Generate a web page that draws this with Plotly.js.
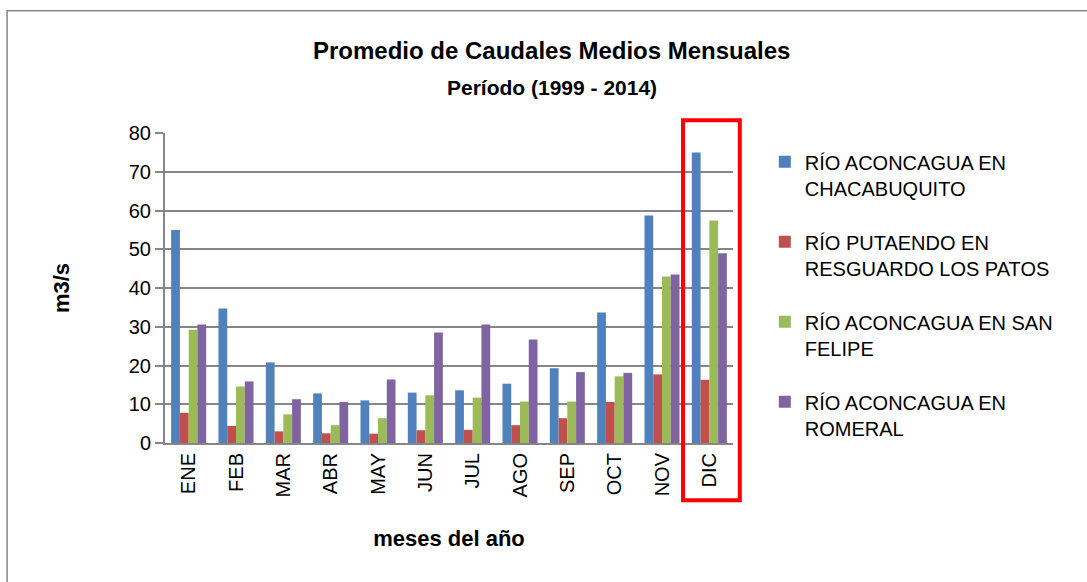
<!DOCTYPE html>
<html>
<head>
<meta charset="utf-8">
<script src="https://cdn.plot.ly/plotly-3.0.1.min.js"></script>
<style>html,body{margin:0;padding:0;background:#fff;}#chart{width:1087px;height:582px;}</style>
</head>
<body>
<div id="chart"></div>
<script>
const months = ["ENE","FEB","MAR","ABR","MAY","JUN","JUL","AGO","SEP","OCT","NOV","DIC"];
const seriesNames = [
  "RÍO ACONCAGUA EN<br>CHACABUQUITO",
  "RÍO PUTAENDO EN<br>RESGUARDO LOS PATOS",
  "RÍO ACONCAGUA EN SAN<br>FELIPE",
  "RÍO ACONCAGUA EN<br>ROMERAL"
];
const chacabuquito = [55.0, 34.7, 20.8, 12.8, 11.0, 13.0, 13.6, 15.3, 19.3, 33.7, 58.7, 75.0];
const putaendo     = [7.8, 4.4, 3.0, 2.5, 2.4, 3.3, 3.4, 4.6, 6.4, 10.6, 17.7, 16.3];
const sanFelipe    = [29.2, 14.6, 7.4, 4.6, 6.4, 12.3, 11.7, 10.7, 10.7, 17.2, 43.0, 57.4];
const romeral      = [30.6, 15.9, 11.3, 10.6, 16.4, 28.5, 30.6, 26.7, 18.3, 18.1, 43.5, 49.0];
const colors = ["#4F81BD", "#C0504D", "#9BBB59", "#8064A2"];
const allSeries = [chacabuquito, putaendo, sanFelipe, romeral];
const titleLine1 = "Promedio de Caudales Medios Mensuales";
const titleLine2 = "Período (1999 - 2014)";

const traces = allSeries.map((vals, i) => ({
  type: "bar",
  x: months,
  y: vals,
  name: seriesNames[i],
  legendgroup: "g" + i,
  marker: {color: colors[i]},
  hoverinfo: "x+y"
}));

const FONT = "Liberation Sans, Arial, sans-serif";

const layout = {
  width: 1087,
  height: 582,
  margin: {l: 165, r: 354, t: 133, b: 139},
  paper_bgcolor: "#ffffff",
  plot_bgcolor: "#ffffff",
  font: {family: FONT, color: "#000000", size: 20},
  barmode: "group",
  bargap: 0.26,
  bargroupgap: 0,
  annotations: [
    {text: "<b>" + titleLine1 + "</b>", xref: "paper", yref: "paper", x: 0.681, y: (442.7 - 50) / 310,
     xanchor: "center", yanchor: "middle", showarrow: false, font: {family: FONT, size: 24, color: "#000"}},
    {text: "<b>" + titleLine2 + "</b>", xref: "paper", yref: "paper", x: 0.681, y: (442.7 - 87) / 310,
     xanchor: "center", yanchor: "middle", showarrow: false, font: {family: FONT, size: 21, color: "#000"}}
  ],
  xaxis: {
    type: "category",
    tickangle: -90,
    showline: true,
    linecolor: "#868686",
    linewidth: 2,
    ticks: "",
    showgrid: false,
    tickfont: {family: FONT, size: 20, color: "#000"},
    title: {text: "<b>meses del año</b>", font: {family: FONT, size: 22, color: "#000"}, standoff: 34},
    automargin: false
  },
  yaxis: {
    range: [0, 80],
    dtick: 10,
    showline: true,
    linecolor: "#868686",
    linewidth: 2,
    ticks: "outside",
    ticklen: 8,
    tickwidth: 2,
    tickcolor: "#868686",
    gridcolor: "#868686",
    gridwidth: 2,
    zeroline: false,
    tickfont: {family: FONT, size: 20, color: "#000"},
    title: {text: "<b>m3/s</b>", font: {family: FONT, size: 22, color: "#000"}, standoff: 53},
    automargin: false
  },
  legend: {
    x: 1.056, xanchor: "left",
    y: 0.97, yanchor: "top",
    font: {family: FONT, size: 20, color: "#000"},
    traceorder: "grouped",
    tracegroupgap: 25,
    valign: "top",
    itemwidth: 30,
    bgcolor: "rgba(0,0,0,0)"
  },
  shapes: [
    {type: "rect", xref: "paper", yref: "paper", x0: -0.278, x1: 1.628, y0: -0.475, y1: 1.394,
     line: {color: "#868686", width: 1.5}, fillcolor: "rgba(0,0,0,0)", layer: "below"},
    {type: "rect", xref: "paper", yref: "paper", x0: 0.912, x1: 1.012, y0: -0.185, y1: 1.041,
     line: {color: "#FF0000", width: 4}, fillcolor: "rgba(0,0,0,0)", layer: "above"}
  ],
  showlegend: true
};

Plotly.newPlot("chart", traces, layout, {displayModeBar: false, staticPlot: true});
</script>
</body>
</html>
